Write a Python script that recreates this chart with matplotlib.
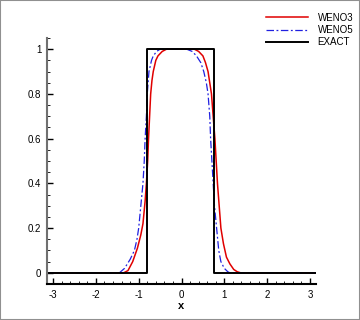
import numpy as np
import matplotlib.pyplot as plt
from matplotlib.ticker import MultipleLocator
from matplotlib.patches import Rectangle

plt.rcParams['font.family'] = ['Liberation Sans', 'DejaVu Sans']

# exact square wave
exact_x = [-np.pi, -0.80, -0.80, 0.75, 0.75, np.pi]
exact_y = [0, 0, 1, 1, 0, 0]

# WENO3
weno3_x = [-np.pi, -1.35, -1.25, -1.14, -1.03, -0.95, -0.90, -0.85, -0.82, -0.79,
           -0.77, -0.74, -0.72, -0.69, -0.66, -0.60, -0.55, -0.45, -0.35,
           0.30, 0.40, 0.50, 0.56, 0.62, 0.66, 0.70, 0.74, 0.78, 0.81, 0.84,
           0.88, 0.92, 0.98, 1.05, 1.13, 1.22, 1.30, 1.38, np.pi]
weno3_y = [0, 0, 0.01, 0.05, 0.11, 0.17, 0.22, 0.32, 0.40, 0.50,
           0.60, 0.72, 0.80, 0.86, 0.90, 0.95, 0.97, 0.99, 1.0,
           1.0, 0.99, 0.97, 0.94, 0.90, 0.85, 0.80, 0.70, 0.60, 0.50, 0.40,
           0.30, 0.20, 0.13, 0.07, 0.04, 0.015, 0.005, 0, 0]

# WENO5
weno5_x = [-np.pi, -1.45, -1.33, -1.20, -1.10, -1.04, -1.00, -0.95, -0.90, -0.87,
           -0.85, -0.82, -0.80, -0.76, -0.70, -0.66, -0.58, -0.50,
           0.12, 0.25, 0.35, 0.45, 0.52, 0.58, 0.62, 0.66, 0.68, 0.71, 0.74,
           0.77, 0.82, 0.87, 0.92, 1.00, 1.08, 1.13, np.pi]
weno5_y = [0, 0, 0.02, 0.06, 0.10, 0.15, 0.20, 0.30, 0.40, 0.50,
           0.60, 0.70, 0.80, 0.90, 0.95, 0.97, 0.99, 1.0,
           1.0, 0.99, 0.97, 0.94, 0.90, 0.85, 0.80, 0.70, 0.60, 0.50, 0.40,
           0.30, 0.20, 0.10, 0.05, 0.02, 0.005, 0, 0]

fig = plt.figure(figsize=(3.6, 3.2), dpi=100)
ax = fig.add_axes([47/360, 1 - 284/320, 269/360, 246/320])

ax.plot(weno3_x, weno3_y, color='#e00000', lw=1.1, label='WENO3')
ax.plot(weno5_x, weno5_y, color='#2020e0', lw=0.9, dashes=(6, 2, 1.5, 2), label='WENO5')
ax.plot(exact_x, exact_y, color='black', lw=1.4, label='EXACT')

ax.set_xlim(-np.pi, np.pi)
ax.set_ylim(-0.05, 1.05)
ax.xaxis.set_major_locator(MultipleLocator(1))
ax.xaxis.set_minor_locator(MultipleLocator(0.2))
ax.yaxis.set_major_locator(MultipleLocator(0.2))
ax.yaxis.set_minor_locator(MultipleLocator(0.05))
ax.set_yticks([0, 0.2, 0.4, 0.6, 0.8, 1.0])
ax.set_yticklabels(['0', '0.2', '0.4', '0.6', '0.8', '1'])
ax.set_xticks([-3, -2, -1, 0, 1, 2, 3])
ax.set_xticklabels(['-3', '-2', '-1', '0', '1', '2', '3'])
ax.tick_params(which='both', direction='in', labelsize=7, pad=4, color='black')
ax.tick_params(which='major', length=4, width=1)
ax.tick_params(which='minor', length=2.5, width=0.6)

for s in ['top', 'right']:
    ax.spines[s].set_visible(False)
ax.spines['left'].set_color('#707070')
ax.spines['left'].set_linewidth(1.5)
ax.spines['bottom'].set_linewidth(1.5)

ax.set_xlabel('x', fontsize=8, fontweight='bold', labelpad=1)

ax.legend(loc='upper right', bbox_to_anchor=(1.0, 0.982), bbox_transform=fig.transFigure,
          frameon=False, fontsize=7, handlelength=4.3, handletextpad=1.0,
          labelspacing=0.25, borderaxespad=0.3)

fig.patches.append(Rectangle((0, 0), 1, 1, transform=fig.transFigure, fill=False,
                             edgecolor='#909090', lw=1.5))

fig.savefig('out.png', dpi=100)
